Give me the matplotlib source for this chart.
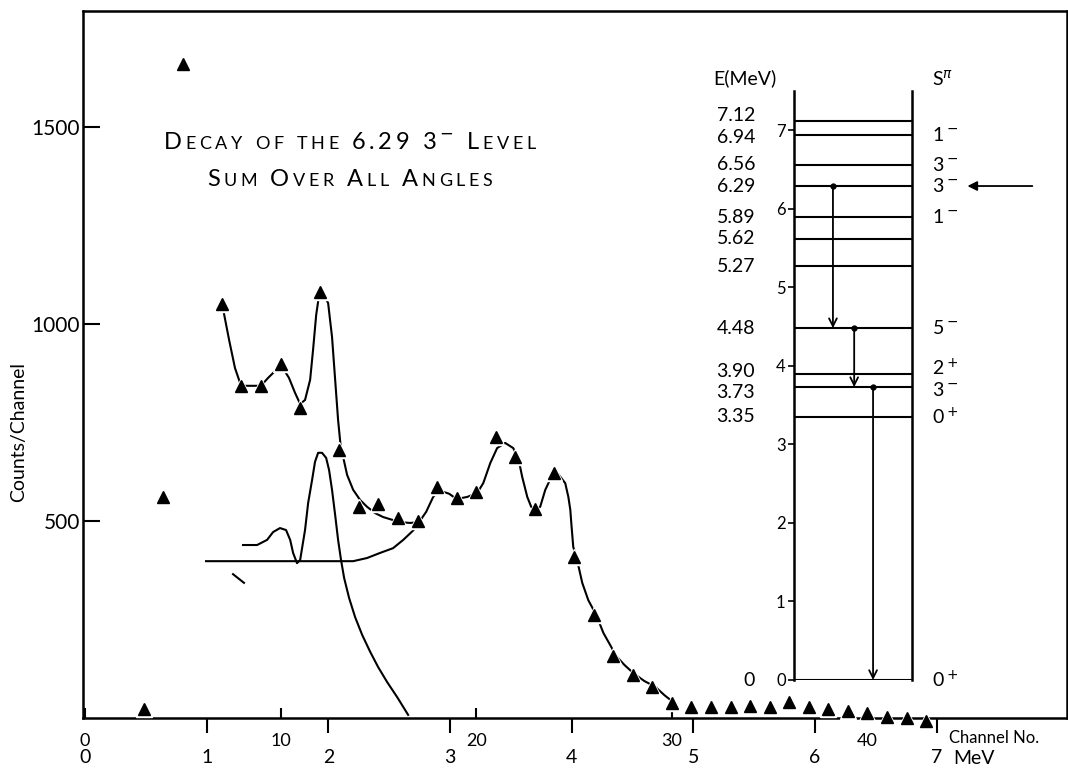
import re
import matplotlib
matplotlib.use("Agg")
import matplotlib.pyplot as plt
from matplotlib.offsetbox import TextArea, HPacker, VPacker, AnnotationBbox

plt.rcParams['font.family'] = ['Lato', 'DejaVu Sans']

# measured spectrum (counts per channel)
channel = [3, 4, 5, 7, 8, 9, 10, 11, 12, 13, 14, 15, 16, 17, 18, 19, 20, 21, 22, 23,
           24, 25, 26, 27, 28, 29, 30, 31, 32, 33, 34, 35, 36, 37, 38, 39, 40, 41, 42, 43]
counts = [23, 561, 1660, 1051, 843, 843, 898, 787, 1081, 680, 536, 543, 508, 500, 586, 558,
          574, 713, 662, 530, 622, 409, 261, 157, 109, 79, 38, 29, 29, 29, 30, 29, 41, 29,
          22, 19, 12, 2, 0, -7]

# hand-drawn fit through the spectrum
fit_ch = [7.01, 7.37, 7.67, 7.98, 8.49, 9.0, 9.36, 9.77, 10.18, 10.43, 10.74, 11.0, 11.25,
          11.51, 11.66, 11.82, 11.97, 12.12, 12.43, 12.63, 12.79, 12.94, 13.09, 13.2, 13.4,
          13.71, 14.07, 14.42, 14.83, 15.24, 15.7, 16.11, 16.62, 17.08, 17.44, 17.8, 18.06,
          18.31, 18.62, 18.93, 19.23, 19.54, 20.05, 20.36, 20.72, 21.07, 21.48, 21.89, 22.15,
          22.35, 22.61, 22.81, 23.02, 23.27, 23.53, 23.89, 24.19, 24.55, 24.71, 24.81, 24.86,
          24.96, 25.12, 25.42, 25.73, 26.14, 26.5, 26.85, 27.16, 27.57, 28.03, 28.59, 29.16,
          29.62, 30.13]
fit_counts = [1051, 959, 888, 843, 843, 843, 863, 883, 883, 863, 825, 797, 807,
              858, 934, 1023, 1074, 1081, 1053, 967, 858, 756, 680, 662, 617,
              579, 553, 536, 520, 510, 503, 497, 495, 497, 523, 561, 574,
              574, 569, 558, 558, 561, 571, 596, 647, 685, 698, 685, 660,
              612, 561, 536, 528, 536, 579, 617, 619, 596, 561, 528, 495,
              434, 409, 343, 299, 261, 216, 185, 157, 135, 114, 94, 79,
              58, 38]

# 6.29 -> 4.48 line shape
peak_ch = [8.08, 8.8, 9.31, 9.62, 9.97, 10.28, 10.49, 10.64, 10.84, 11.0, 11.25, 11.41,
           11.61, 11.76, 11.92, 12.12, 12.33, 12.48, 12.63, 12.79, 12.94, 13.09, 13.25,
           13.5, 13.81, 14.17, 14.58, 14.99, 15.45, 15.96, 16.52]
peak_counts = [439, 439, 452, 472, 482, 477, 452, 419, 393, 401, 477, 546,
               604, 650, 673, 673, 660, 629, 579, 515, 452, 401, 355,
               305, 256, 211, 168, 129, 91, 53, 8]

# background under the low-energy lines
bg_ch = [6.19, 10.33, 13.71, 14.42, 15.09, 15.75, 16.27, 16.78, 17.14]
bg_counts = [398, 398, 398, 406, 419, 431, 452, 476, 500]

stroke_ch = [7.57, 8.13]
stroke_counts = [365, 343]

MEV_PER_CHANNEL = 0.1608

# level scheme
level_e = [0, 3.35, 3.73, 3.90, 4.48, 5.27, 5.62, 5.89, 6.29, 6.56, 6.94, 7.12]
level_text = ["0", "3.35", "3.73", "3.90", "4.48", "5.27", "5.62", "5.89", "6.29",
              "6.56", "6.94", "7.12"]
level_spin = ["0$^+$", "0$^+$", "3$^-$", "2$^+$", "5$^-$", "", "", "1$^-$", "3$^-$",
              "3$^-$", "1$^-$", ""]
cascade = [(6.29, 4.48), (4.48, 3.73), (3.73, 0)]

title_lines = ["Decay of the 6.29 3$^-$ Level", "Sum Over All Angles"]

# vertical nudges (points) so crowded level labels don't collide
energy_nudge = {3.73: -4, 3.90: 1.5, 6.94: -1.5, 7.12: 3.5}
spin_nudge = {3.73: -2, 3.90: 4}


def small_caps(text, big=17, small=13):
    boxes = []
    for tok in re.findall(r".\$[^$]*\$|.", text):
        size = small if tok.islower() else big
        boxes.append(TextArea(tok if '$' in tok else tok.upper(),
                              textprops=dict(fontsize=size, color='black')))
    return HPacker(children=boxes, align="baseline", pad=0, sep=2.6)


fig = plt.figure(figsize=(10.68, 7.70), dpi=100)
ax = fig.add_axes([0.0777, 0.0675, 0.9214, 0.9182])
ax.set_xlim(-0.1, 50.2)
ax.set_ylim(0, 1794)

ax.plot(fit_ch, fit_counts, color='black', lw=1.5, zorder=2)
ax.plot(peak_ch, peak_counts, color='black', lw=1.5, zorder=2)
ax.plot(bg_ch, bg_counts, color='black', lw=1.5, zorder=2)
ax.plot(stroke_ch, stroke_counts, color='black', lw=1.5, zorder=2)
ax.plot(channel, counts, ls='none', marker='^', ms=11, color='white', clip_on=False, zorder=3)
ax.plot(channel, counts, ls='none', marker='^', ms=8, color='black', clip_on=False, zorder=4)

for s in ax.spines.values():
    s.set_linewidth(1.8)

ax.set_xticks([0, 10, 20, 30, 40])
ax.tick_params(axis='x', direction='in', length=7, width=1.5, labelsize=13, pad=11)
ax.set_yticks([500, 1000, 1500])
ax.tick_params(axis='y', direction='in', length=12, width=1.5, labelsize=15, pad=2)
ax.set_ylabel("Counts/Channel", fontsize=14)
ax.yaxis.set_label_coords(-0.057, 0.405)

sec = ax.secondary_xaxis(0, functions=(lambda c: c * MEV_PER_CHANNEL,
                                       lambda e: e / MEV_PER_CHANNEL))
sec.set_xticks(range(8))
sec.tick_params(direction='out', length=11, width=1.5, labelsize=14, pad=11)
sec.spines['bottom'].set_visible(False)
sec.xaxis.get_major_ticks()[0].tick1line.set_visible(False)

fig.text(949 / 1068, 1 - 738 / 770, "Channel No.", fontsize=12, va='center', ha='left')
fig.text(953 / 1068, 1 - 759 / 770, "MeV", fontsize=14, va='center', ha='left')

title = VPacker(children=[small_caps(t) for t in title_lines], align="center", pad=0, sep=12)
ax.add_artist(AnnotationBbox(title, (0.271, 0.788), xycoords='axes fraction',
                             frameon=False, box_alignment=(0.5, 0.5)))

# level diagram
lv = fig.add_axes([794 / 1068, 90 / 770, 118 / 1068, 589 / 770])
lv.set_xlim(0, 1)
lv.set_ylim(0, 7.5)
lv.patch.set_alpha(0)
lv.spines['top'].set_visible(False)
lv.spines['bottom'].set_visible(False)
lv.spines['left'].set_linewidth(1.8)
lv.spines['right'].set_linewidth(1.8)
lv.set_xticks([])
lv.set_yticks(range(8))
lv.tick_params(axis='y', direction='out', length=4, width=1.2, labelsize=12, pad=2)
lv.hlines(level_e, 0, 1, color='black', lw=1.5)

for e, txt, spin in zip(level_e, level_text, level_spin):
    lv.annotate(txt, (-0.33, e), xytext=(0, energy_nudge.get(e, 0)),
                textcoords='offset points', ha='right', va='center', fontsize=14,
                annotation_clip=False)
    if spin:
        lv.annotate(spin, (1.17, e), xytext=(0, spin_nudge.get(e, 0)),
                    textcoords='offset points', ha='left', va='center', fontsize=14,
                    annotation_clip=False)

lv.text(-0.415, 7.66, "E(MeV)", ha='center', va='center', fontsize=14)
lv.text(1.17, 7.66, "S$^{\\pi}$", ha='left', va='center', fontsize=14)

for x, (e0, e1) in zip([0.33, 0.51, 0.67], cascade):
    lv.annotate('', xy=(x, e1), xytext=(x, e0),
                arrowprops=dict(arrowstyle='->', lw=1.3, color='black',
                                shrinkA=0, shrinkB=0, mutation_scale=14))
    lv.plot(x, e0, 'o', color='black', ms=3.5)

lv.annotate('', xy=(1.47, 6.29), xytext=(2.02, 6.29), annotation_clip=False,
            arrowprops=dict(arrowstyle='-|>', lw=1.3, color='black',
                            shrinkA=0, shrinkB=0, mutation_scale=14))

fig.savefig("out.png", dpi=100)
